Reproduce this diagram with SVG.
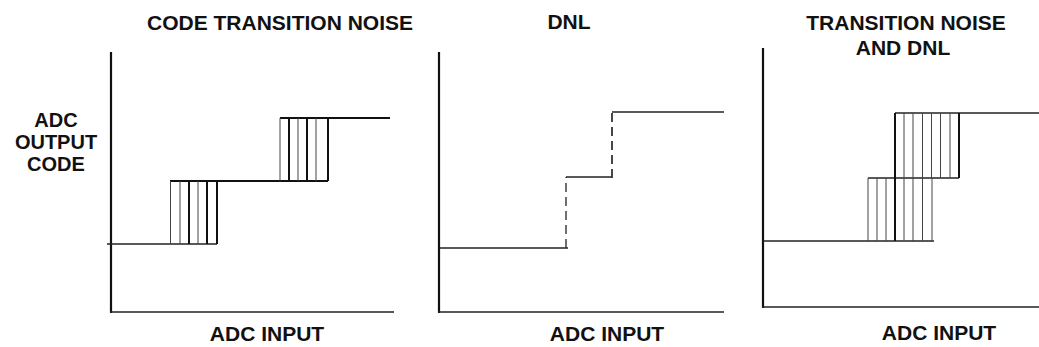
<svg xmlns="http://www.w3.org/2000/svg" width="1039" height="347" viewBox="0 0 1039 347">
<style>
text{font-family:"Liberation Sans",Arial,sans-serif;font-weight:bold;font-size:21px;fill:#111;text-anchor:middle}
.yl{font-size:20px}
.ax{stroke:#111;stroke-width:2.2;fill:none}
.st{stroke:#222;stroke-width:1.5;fill:none}
.stk{stroke:#111;stroke-width:2.2;fill:none}
.hn{stroke:#444;stroke-width:1;fill:none}
.hk{stroke:#111;stroke-width:2;fill:none}
.ds{stroke:#333;stroke-width:1.4;fill:none;stroke-dasharray:9,5}
</style>
<rect width="1039" height="347" fill="#fff"/>
<g id="labels">
<text class="yl" x="56" y="127">ADC</text>
<text class="yl" x="56" y="149">OUTPUT</text>
<text class="yl" x="56" y="171">CODE</text>
</g>
<g id="panel1">
<text x="280" y="30">CODE TRANSITION NOISE</text>
<text x="267" y="341">ADC INPUT</text>
<line class="ax" x1="111" y1="52" x2="111" y2="313"/>
<line class="st" x1="110" y1="312" x2="394" y2="312"/>
<line class="st" x1="107" y1="244" x2="217" y2="244"/>
<line class="stk" x1="170" y1="181" x2="328" y2="181"/>
<line class="stk" x1="280" y1="118" x2="390" y2="118"/>
<g>
<line class="hn" x1="170.5" y1="181" x2="170.5" y2="244"/>
<line class="hn" x1="180" y1="181" x2="180" y2="244"/>
<line class="hk" x1="189" y1="181" x2="189" y2="244"/>
<line class="hn" x1="198" y1="181" x2="198" y2="244"/>
<line class="hk" x1="207" y1="181" x2="207" y2="244"/>
<line class="hk" x1="217" y1="181" x2="217" y2="244"/>
</g>
<g>
<line class="hn" x1="280" y1="118" x2="280" y2="181"/>
<line class="hk" x1="289" y1="118" x2="289" y2="181"/>
<line class="hn" x1="298" y1="118" x2="298" y2="181"/>
<line class="hk" x1="307" y1="118" x2="307" y2="181"/>
<line class="hn" x1="316" y1="118" x2="316" y2="181"/>
<line class="hk" x1="328" y1="118" x2="328" y2="181"/>
</g>
</g>
<g id="panel2">
<text x="569" y="29">DNL</text>
<text x="607" y="341">ADC INPUT</text>
<line class="ax" x1="439" y1="52" x2="439" y2="313"/>
<line class="st" x1="438" y1="312" x2="724" y2="312"/>
<line class="st" x1="439" y1="248" x2="568" y2="248"/>
<line class="ds" x1="566" y1="248" x2="566" y2="177"/>
<line class="st" x1="566" y1="177" x2="612" y2="177"/>
<line class="ds" x1="612" y1="178" x2="612" y2="112" style="stroke-width:1.8"/>
<line class="st" x1="612" y1="112" x2="724" y2="112"/>
</g>
<g id="panel3">
<text x="906" y="30">TRANSITION NOISE</text>
<text x="903" y="55">AND DNL</text>
<text x="939" y="340">ADC INPUT</text>
<line class="ax" x1="763" y1="48" x2="763" y2="308"/>
<line class="st" x1="762" y1="307" x2="1039" y2="307"/>
<line class="st" x1="763" y1="241" x2="934" y2="241"/>
<line class="st" x1="868" y1="178" x2="959" y2="178"/>
<line class="st" x1="895" y1="113" x2="1039" y2="113"/>
<g>
<line class="hn" x1="868" y1="178" x2="868" y2="241"/>
<line class="hn" x1="877" y1="178" x2="877" y2="241"/>
<line class="hn" x1="886" y1="178" x2="886" y2="241"/>
<line class="hn" x1="913" y1="178" x2="913" y2="241"/>
<line class="hn" x1="922.5" y1="178" x2="922.5" y2="241"/>
<line class="hn" x1="932" y1="178" x2="932" y2="241"/>
<line class="hk" x1="895" y1="113" x2="895" y2="241"/>
<line class="hn" x1="904" y1="113" x2="904" y2="241"/>
<line class="hn" x1="913" y1="113" x2="913" y2="178"/>
<line class="hn" x1="922.5" y1="113" x2="922.5" y2="178"/>
<line class="hn" x1="931.5" y1="113" x2="931.5" y2="178"/>
<line class="hn" x1="940.5" y1="113" x2="940.5" y2="178"/>
<line class="hn" x1="950" y1="113" x2="950" y2="178"/>
<line class="hk" x1="959" y1="113" x2="959" y2="178"/>
</g>
</g>
</svg>
